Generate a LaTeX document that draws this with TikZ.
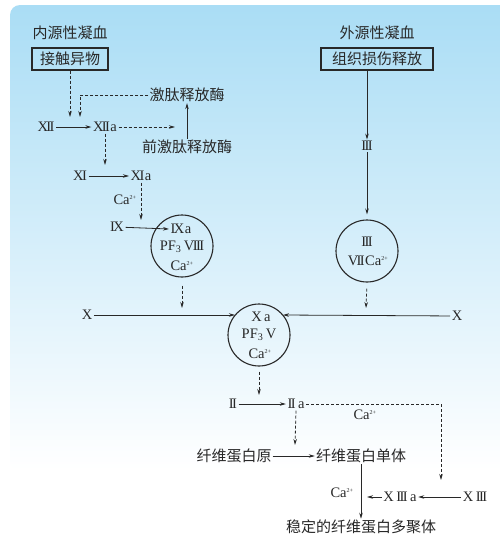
\documentclass[tikz,border=0pt]{standalone}
\usepackage{fontspec}
\setmainfont{Liberation Serif}
\newfontfamily\cjk{Noto Sans CJK SC}
\usetikzlibrary{arrows.meta}

\definecolor{bgtop}{RGB}{170,221,245}
\definecolor{ink}{RGB}{40,40,40}

\newcommand\kk{\kern-1.6pt}
\newcommand\Ca{Ca\textsuperscript{\fontsize{6}{6}\selectfont 2+}}

\begin{document}
\begin{tikzpicture}[x=1pt,y=-1pt,
  cn/.style={font=\cjk\fontsize{15}{18}\selectfont, text=ink, inner sep=1pt},
  rn/.style={font=\fontsize{14.5}{16}\selectfont, text=ink, inner sep=1.5pt},
  bx/.style={cn, draw=ink, line width=1.1pt, minimum height=22pt, inner xsep=8pt},
  ring/.style={circle, draw=ink, line width=1.1pt, minimum size=62pt, inner sep=0pt},
  sar/.style={draw=ink, line width=0.8pt, -{Stealth[length=6pt,width=3.5pt]}},
  dar/.style={sar, dash pattern=on 3pt off 2pt},
]
\useasboundingbox (0,0) rectangle (500,544);
\clip (0,0) rectangle (500,544);
\fill[white] (0,0) rectangle (500,544);
\shade[top color=bgtop, bottom color=white, rounded corners=10pt] (10,5) rectangle (520,470);

% titles and boxes
\node[cn] (t1) at (70,33) {内源性凝血};
\node[bx] (b1) at (70,59) {接触异物};
\node[cn] (t2) at (377,33) {外源性凝血};
\node[bx, inner xsep=11pt] (b2) at (377,59) {组织损伤释放};

% intrinsic chain
\node[rn] (n12) at (46,127) {X\kk I\kk I};
\node[rn] (n12a) at (105,127) {X\kk I\kk I\kern0.5pt a};
\node[cn] (kal) at (187,95) {激肽释放酶};
\node[cn] (pkal) at (187,147) {前激肽释放酶};
\node[rn] (n11) at (80,176) {X\kk I};
\node[rn] (n11a) at (141,176) {X\kk I\kern0.5pt a};
\node[rn] (ca1) at (125,200) {\Ca};
\node[rn] (n9) at (117,227) {I\kk X};
\node[ring] (c1) at (182,246) {};
\node[rn] (ixa) at (181,229) {I\kk X\kern0.5pt a};
\node[rn] (pf8) at (182,247) {PF\textsubscript{3}\,V\kk I\kk I\kk I};
\node[rn] (ca9) at (182,266) {\Ca};

% extrinsic chain
\node[rn] (n3) at (367,146) {I\kk I\kk I};
\node[ring] (c3) at (367,251) {};
\node[rn] (c3a) at (367,242) {I\kk I\kk I};
\node[rn] (c3b) at (368,261) {V\kk I\kk I\kern0.5pt\Ca};

% common pathway
\node[rn] (x1) at (87,315) {X};
\node[rn] (x2) at (457,316) {X};
\node[ring] (c2) at (259,335) {};
\node[rn] (xa) at (261,317) {X\,a};
\node[rn] (pf5) at (259,335) {PF\textsubscript{3}\,V};
\node[rn] (ca10) at (260,354) {\Ca};

\node[rn] (n2) at (233,404) {I\kk I};
\node[rn] (n2a) at (296,404) {I\kk I\,a};
\node[rn] (ca2) at (365,415) {\Ca};
\node[cn] (fbg) at (234,456) {纤维蛋白原};
\node[cn] (fbm) at (361,456) {纤维蛋白单体};
\node[rn] (ca3) at (342,493) {\Ca};
\node[rn] (n13a) at (400,497) {X\,I\kk I\kk I\,a};
\node[rn] (n13) at (475,497) {X\,I\kk I\kk I};
\node[cn] (poly) at (361,527) {稳定的纤维蛋白多聚体};

% free connector ends
\coordinate (p1) at (70,117);
\coordinate (p2) at (80,117);
\coordinate (p3) at (175,127);
\coordinate (p4) at (105,165);
\coordinate (p5) at (141,220);
\coordinate (p6) at (182,308);
\coordinate (p7) at (366,308);
\coordinate (p8) at (235,315);
\coordinate (p9) at (283,315);
\coordinate (p10) at (259,395);
\coordinate (p11) at (441,480);
\coordinate (p12) at (295,445);
\coordinate (p13) at (367,497);

% connectors
\draw[dar] (b1.south) -- (p1);
\draw[dar] (kal.west) -| (p2);
\draw[sar] (n12) -- (n12a);
\draw[dar] (n12a.east) -- (p3);
\draw[sar] (pkal.north) -- (kal.south);
\draw[dar] (n12a.south) -- (p4);
\draw[sar] (n11) -- (n11a);
\draw[dar] (n11a.south) -- (p5);
\draw[sar] (n9) -- (ixa.west);
\draw[dar, shorten <=8pt] (c1.south) -- (p6);
\draw[sar] (x1) -- (p8);
\draw[sar] (x2) -- (p9);
\draw[sar] (n3 |- b2.south) -- (n3.north);
\draw[sar, shorten >=5pt] (n3.south) -- (c3.north);
\draw[dar, shorten <=6pt] (c3.south) -- (p7);
\draw[dar, shorten <=5pt] (c2.south) -- (p10);
\draw[sar] (n2) -- (n2a);
\draw[dar] (n2a.east) -| (p11);
\draw[dar] (n2a.south) -- (p12);
\draw[sar] (fbg) -- (fbm);
\draw[sar] (fbm.south) -- (poly.north);
\draw[sar] (n13a.west) -- (p13);
\draw[sar] (n13) -- (n13a);
\end{tikzpicture}
\end{document}
